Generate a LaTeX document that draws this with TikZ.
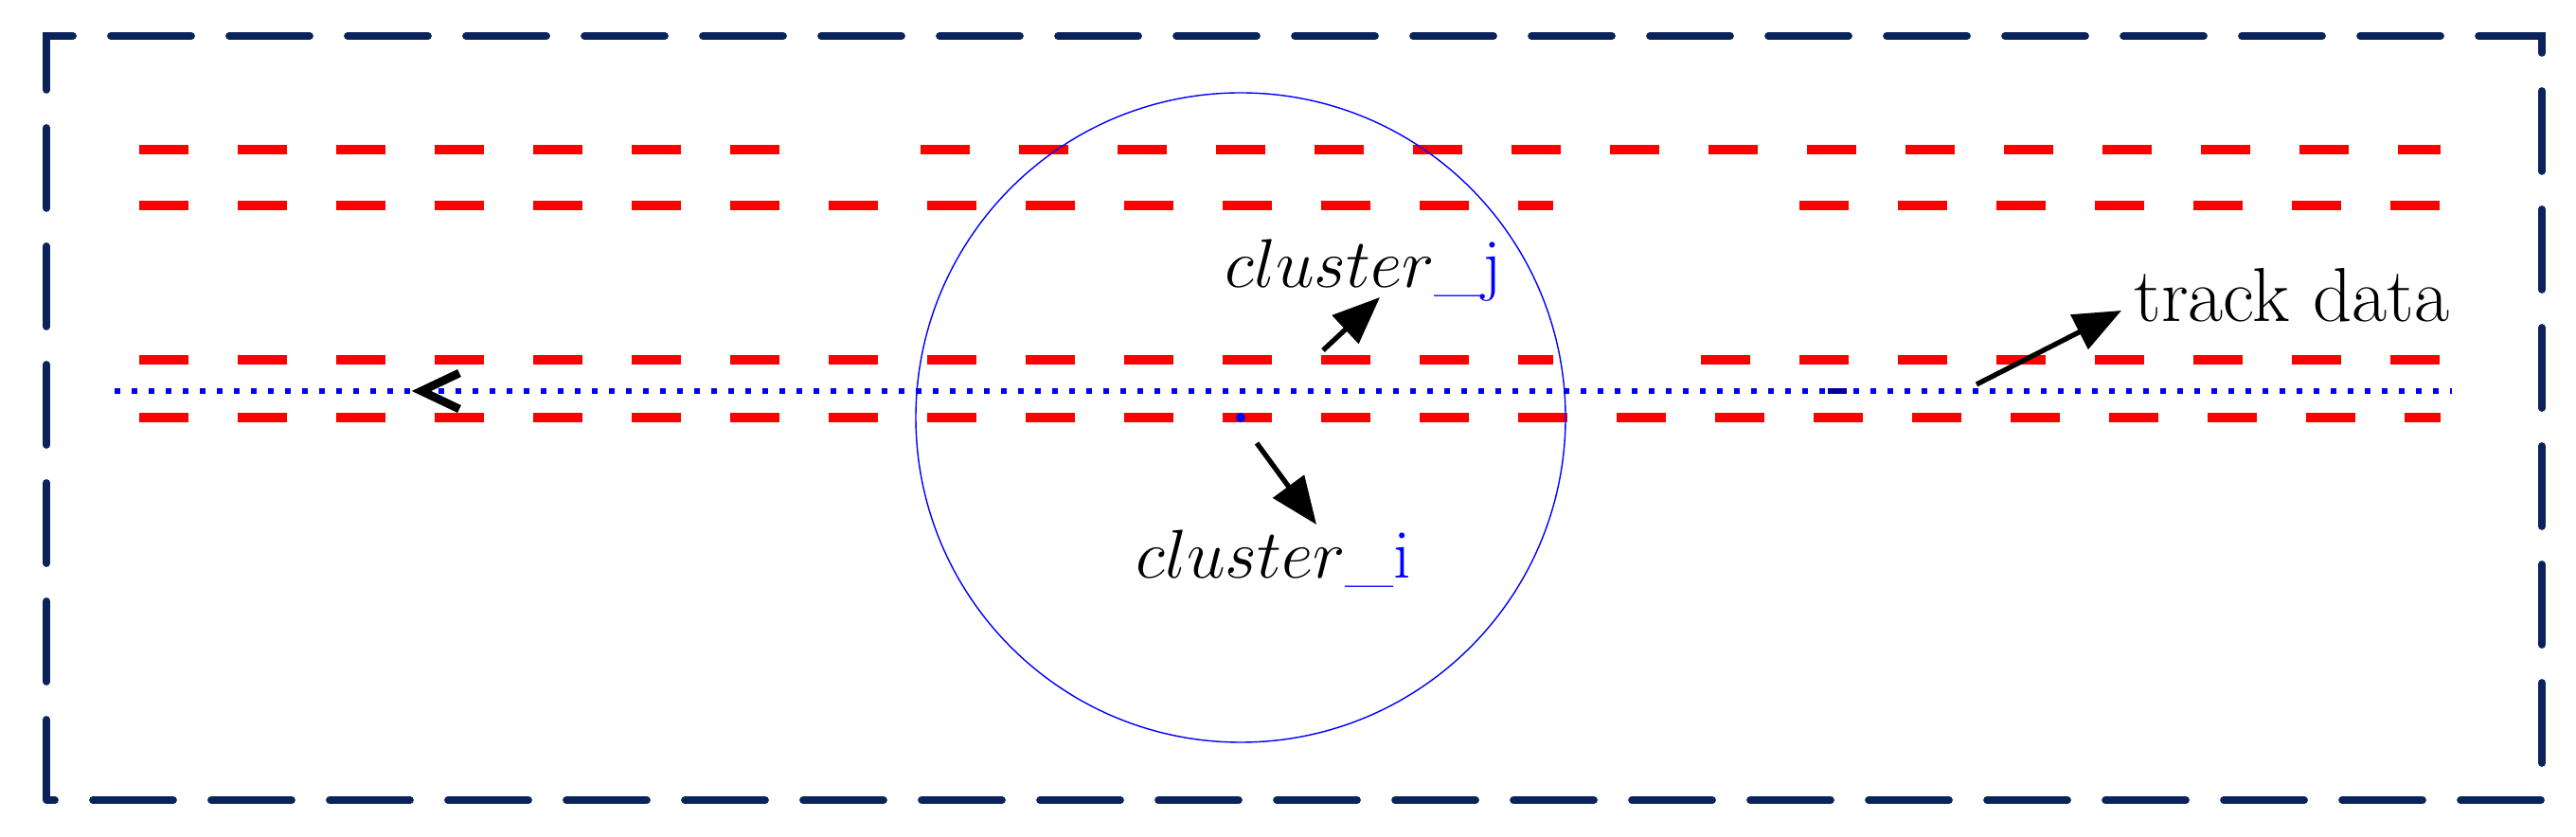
\documentclass[tikz,border=0pt]{standalone}
\usetikzlibrary{arrows.meta}
\definecolor{framenavy}{RGB}{10,35,90}
\tikzset{
  hit/.style={red, line width=3pt, dash pattern=on 0.52cm off 0.52cm},
  lbl/.style={font=\fontsize{21}{25}\selectfont, inner sep=0pt},
  pointer/.style={-{Triangle[length=0.5cm,width=0.4cm]}, line width=1.5pt}
}
\begin{document}
\begin{tikzpicture}[x=1cm,y=1cm]
\useasboundingbox (0,0) rectangle (27.2,8.84);
\draw [framenavy, line width=2.2pt, line cap=round, dash pattern=on 0.85cm off 0.4cm] (0.49,0.39) rectangle (26.84,8.46);

\draw [hit] (1.47,7.26) -- (8.24,7.26);
\draw [hit] (9.72,7.26) -- (25.77,7.26);
\draw [hit] (1.47,6.67) -- (16.4,6.67);
\draw [hit] (19.0,6.67) -- (25.77,6.67);
\draw [hit] (1.47,5.04) -- (16.4,5.04);
\draw [hit] (17.96,5.04) -- (25.77,5.04);
\draw [hit] (1.47,4.43) -- (25.77,4.43);

\draw [blue, line width=1.8pt, dash pattern=on 0.06cm off 0.12cm] (1.21,4.71) -- (25.89,4.71);
\draw [blue!60!black, line width=1.5pt] (19.3,4.71) -- (19.5,4.71);
\draw [blue] (13.1,4.43) circle (3.43);
\fill [blue] (13.1,4.43) circle (0.05);
\draw [line width=2.5pt, line join=miter] (4.85,4.9) -- (4.45,4.71) -- (4.85,4.52);

\node [lbl] (cj) at (14.4,5.98) {$cluster$\textcolor{blue}{\_j}};
\node [lbl] (ci) at (13.45,2.94) {$cluster$\textcolor{blue}{\_i}};
\node [lbl, font=\fontsize{23}{27}\selectfont] (track) at (24.2,5.72) {track data};

\coordinate (cjfoot) at (13.97,5.14);
\coordinate (cifoot) at (13.27,4.16);
\coordinate (trackfoot) at (20.87,4.78);
\draw [pointer] (cjfoot) -- (14.57,5.7);
\draw [pointer] (cifoot) -- (13.9,3.3);
\draw [pointer] (trackfoot) -- (22.4,5.56);
\end{tikzpicture}
\end{document}
